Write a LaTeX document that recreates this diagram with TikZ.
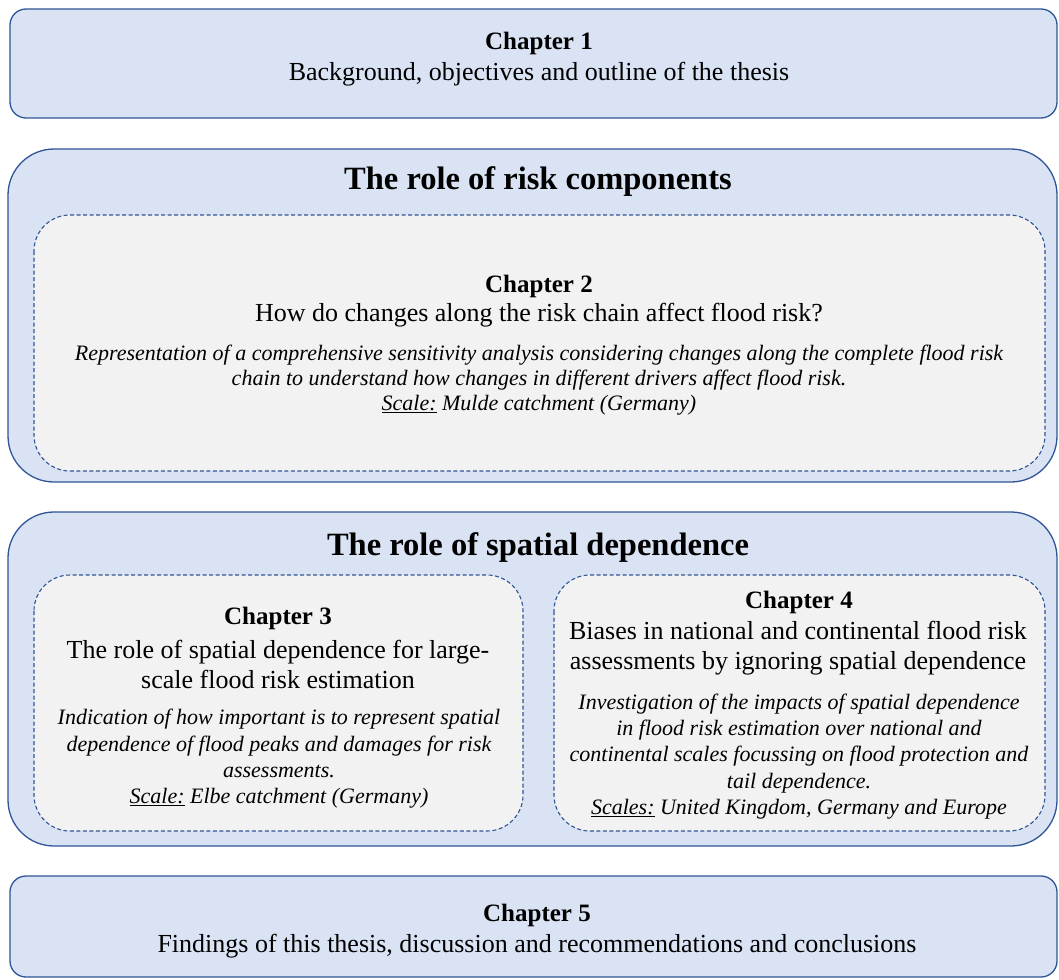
\documentclass[tikz,border=0pt]{standalone}
\usepackage{fontspec}
\setmainfont{Liberation Serif}
\definecolor{panelblue}{HTML}{DAE3F3}
\definecolor{edgeblue}{HTML}{2F5597}
\definecolor{innergray}{HTML}{F2F2F2}
\begin{document}
\begin{tikzpicture}[x=1pt,y=-1pt,
  outerbox/.style={draw=edgeblue,line width=1.3pt,fill=panelblue},
  innerbox/.style={draw=edgeblue,line width=1.1pt,dash pattern=on 4pt off 2.5pt,fill=innergray},
  textnode/.style={anchor=center,inner sep=0pt,yshift=-2pt},
  head/.style={textnode,font=\fontsize{25}{29}\selectfont\bfseries},
  body/.style={textnode,font=\fontsize{26}{29.5}\selectfont,align=center},
  desc/.style={textnode,font=\fontsize{22}{26.4}\selectfont\itshape,align=center},
  title/.style={textnode,font=\fontsize{32.5}{36}\selectfont\bfseries,yshift=-1pt}]
\useasboundingbox (0,0) rectangle (1059,979);

% Chapter 1
\draw[outerbox,rounded corners=16pt] (10,9) rectangle (1057,118);
\node[head] (c1h) at (539,41) {Chapter 1};
\node[body] (c1b) at (539,72) {Background, objectives and outline of the thesis};

% Part: risk components
\draw[outerbox,rounded corners=46pt] (8,149) rectangle (1057,482);
\node[title] (t1) at (538,179) {The role of risk components};
\draw[innerbox,rounded corners=36pt] (34,215) rectangle (1045,471);
\node[head] (c2h) at (539,284) {Chapter 2};
\node[body] (c2b) at (539,313) {How do changes along the risk chain affect flood risk?};
\node[desc,font=\fontsize{22}{25}\selectfont\itshape] (c2d) at (539,378) {Representation of a comprehensive sensitivity analysis considering changes along the complete flood risk\\
chain to understand how changes in different drivers affect flood risk.\\
\underline{Scale:} Mulde catchment (Germany)};

% Part: spatial dependence
\draw[outerbox,rounded corners=46pt] (8,512) rectangle (1057,846);
\node[title] (t2) at (538,545) {The role of spatial dependence};
\draw[innerbox,rounded corners=36pt] (34,575) rectangle (523,831);
\draw[innerbox,rounded corners=36pt] (554,575) rectangle (1045,831);

\node[head] (c3h) at (278,616) {Chapter 3};
\node[body] (c3b) at (278,662.5) {The role of spatial dependence for large-\\scale flood risk estimation};
\node[desc] (c3d) at (279,757) {Indication of how important is to represent spatial\\
dependence of flood peaks and damages for risk\\
assessments.\\
\underline{Scale:} Elbe catchment (Germany)};

\node[head] (c4h) at (799,600) {Chapter 4};
\node[body] (c4b) at (798,646) {Biases in national and continental flood risk\\assessments by ignoring spatial dependence};
\node[desc] (c4d) at (799,754.5) {Investigation of the impacts of spatial dependence\\
in flood risk estimation over national and\\
continental scales focussing on flood protection and\\
tail dependence.\\
\underline{Scales:} United Kingdom, Germany and Europe};

% Chapter 5
\draw[outerbox,rounded corners=16pt] (10,876) rectangle (1057,977);
\node[head] (c5h) at (537,913) {Chapter 5};
\node[body] (c5b) at (537,944) {Findings of this thesis, discussion and recommendations and conclusions};
\end{tikzpicture}
\end{document}
